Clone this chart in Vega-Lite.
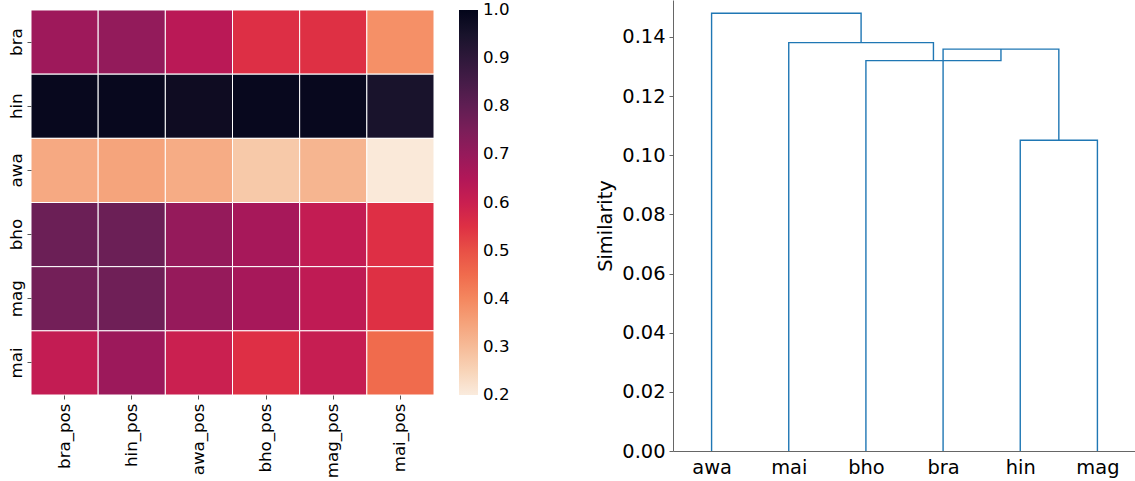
{
  "$schema": "https://vega.github.io/schema/vega-lite/v6.json",
  "background": "white",
  "padding": {"left": 8, "top": 0, "right": 0, "bottom": 0},
  "config": {
    "view": {"stroke": null},
    "font": "DejaVu Sans",
    "axis": {"labelFont": "DejaVu Sans", "titleFont": "DejaVu Sans", "grid": false, "labelColor": "black", "titleColor": "black", "titleFontWeight": "normal", "labelFlush": false},
    "legend": {"labelFont": "DejaVu Sans", "labelColor": "black"}
  },
  "datasets": {
    "heat": [
      {"row": "bra", "col": "bra_pos", "value": 0.685},
      {"row": "bra", "col": "hin_pos", "value": 0.707},
      {"row": "bra", "col": "awa_pos", "value": 0.631},
      {"row": "bra", "col": "bho_pos", "value": 0.554},
      {"row": "bra", "col": "mag_pos", "value": 0.55},
      {"row": "bra", "col": "mai_pos", "value": 0.383},
      {"row": "hin", "col": "bra_pos", "value": 0.99},
      {"row": "hin", "col": "hin_pos", "value": 0.99},
      {"row": "hin", "col": "awa_pos", "value": 0.977},
      {"row": "hin", "col": "bho_pos", "value": 0.99},
      {"row": "hin", "col": "mag_pos", "value": 0.99},
      {"row": "hin", "col": "mai_pos", "value": 0.947},
      {"row": "awa", "col": "bra_pos", "value": 0.336},
      {"row": "awa", "col": "hin_pos", "value": 0.345},
      {"row": "awa", "col": "awa_pos", "value": 0.331},
      {"row": "awa", "col": "bho_pos", "value": 0.273},
      {"row": "awa", "col": "mag_pos", "value": 0.313},
      {"row": "awa", "col": "mai_pos", "value": 0.205},
      {"row": "bho", "col": "bra_pos", "value": 0.781},
      {"row": "bho", "col": "hin_pos", "value": 0.78},
      {"row": "bho", "col": "awa_pos", "value": 0.702},
      {"row": "bho", "col": "bho_pos", "value": 0.668},
      {"row": "bho", "col": "mag_pos", "value": 0.613},
      {"row": "bho", "col": "mai_pos", "value": 0.552},
      {"row": "mag", "col": "bra_pos", "value": 0.766},
      {"row": "mag", "col": "hin_pos", "value": 0.773},
      {"row": "mag", "col": "awa_pos", "value": 0.7},
      {"row": "mag", "col": "bho_pos", "value": 0.668},
      {"row": "mag", "col": "mag_pos", "value": 0.622},
      {"row": "mag", "col": "mai_pos", "value": 0.55},
      {"row": "mai", "col": "bra_pos", "value": 0.613},
      {"row": "mai", "col": "hin_pos", "value": 0.689},
      {"row": "mai", "col": "awa_pos", "value": 0.598},
      {"row": "mai", "col": "bho_pos", "value": 0.552},
      {"row": "mai", "col": "mag_pos", "value": 0.607},
      {"row": "mai", "col": "mai_pos", "value": 0.45}
    ],
    "dendro": [
      {"link": 1, "ord": 1, "x": 45, "y": 0},
      {"link": 1, "ord": 2, "x": 45, "y": 0.1051},
      {"link": 1, "ord": 3, "x": 55, "y": 0.1051},
      {"link": 1, "ord": 4, "x": 55, "y": 0},
      {"link": 2, "ord": 1, "x": 35, "y": 0},
      {"link": 2, "ord": 2, "x": 35, "y": 0.1359},
      {"link": 2, "ord": 3, "x": 50, "y": 0.1359},
      {"link": 2, "ord": 4, "x": 50, "y": 0.1051},
      {"link": 3, "ord": 1, "x": 25, "y": 0},
      {"link": 3, "ord": 2, "x": 25, "y": 0.132},
      {"link": 3, "ord": 3, "x": 42.5, "y": 0.132},
      {"link": 3, "ord": 4, "x": 42.5, "y": 0.1359},
      {"link": 4, "ord": 1, "x": 15, "y": 0},
      {"link": 4, "ord": 2, "x": 15, "y": 0.1381},
      {"link": 4, "ord": 3, "x": 33.75, "y": 0.1381},
      {"link": 4, "ord": 4, "x": 33.75, "y": 0.132},
      {"link": 5, "ord": 1, "x": 5, "y": 0},
      {"link": 5, "ord": 2, "x": 5, "y": 0.148},
      {"link": 5, "ord": 3, "x": 24.375, "y": 0.148},
      {"link": 5, "ord": 4, "x": 24.375, "y": 0.1381}
    ]
  },
  "bounds": "flush",
  "spacing": 239,
  "hconcat": [
    {
      "width": 403,
      "height": 405,
      "data": {"name": "heat"},
      "mark": {"type": "rect", "stroke": "white", "strokeWidth": 1},
      "encoding": {
        "x": {
          "field": "col", "type": "nominal",
          "sort": ["bra_pos", "hin_pos", "awa_pos", "bho_pos", "mag_pos", "mai_pos"],
          "scale": {"paddingInner": 0, "paddingOuter": 0},
          "axis": {"title": null, "labelAngle": 270, "labelFontSize": 16.67, "tickSize": 4, "labelPadding": 4, "domain": false, "offset": -10, "tickColor": "#555"}
        },
        "y": {
          "field": "row", "type": "nominal",
          "sort": ["bra", "hin", "awa", "bho", "mag", "mai"],
          "scale": {"paddingInner": 0, "paddingOuter": 0.1558},
          "axis": {"title": null, "labelAngle": 270, "labelFontSize": 16.67, "tickSize": 4, "labelPadding": 2, "domain": false, "tickColor": "#555"}
        },
        "color": {
          "field": "value", "type": "quantitative",
          "scale": {
            "domain": [0.1995, 0.3143, 0.4286, 0.5429, 0.6571, 0.7714, 0.8857, 1.0005],
            "range": ["#faebdd", "#f6b48f", "#f37651", "#e13342", "#ad1759", "#701f57", "#35193e", "#03051a"]
          },
          "legend": {
            "orient": "none", "legendX": 428, "legendY": 10, "title": null, "direction": "vertical",
            "gradientLength": 385, "gradientThickness": 19,
            "values": [0.2, 0.3, 0.4, 0.5, 0.6, 0.7, 0.8, 0.9, 1.0], "format": ".1f",
            "labelFontSize": 16.67, "labelOffset": 5, "labelOverlap": false, "gradientStrokeWidth": 0, "labelBaseline": "middle"
          }
        }
      }
    },
    {
      "width": 463,
      "height": 451,
      "data": {"name": "dendro"},
      "mark": {"type": "line", "color": "#1f77b4", "strokeWidth": 1.4},
      "encoding": {
        "x": {
          "field": "x", "type": "quantitative",
          "scale": {"domain": [0, 60], "nice": false, "zero": false},
          "axis": {"title": null, "values": [5, 15, 25, 35, 45, 55], "labelExpr": "['awa','mai','bho','bra','hin','mag'][round((datum.value-5)/10)]", "labelFontSize": 19.4, "ticks": false, "labelPadding": 7, "domainColor": "#666"}
        },
        "y": {
          "field": "y", "type": "quantitative",
          "scale": {"domain": [0, 0.1525], "nice": false},
          "axis": {"title": "Similarity", "titleFontSize": 19.4, "values": [0, 0.02, 0.04, 0.06, 0.08, 0.1, 0.12, 0.14], "format": ".2f", "labelFontSize": 19.4, "tickSize": 4, "labelPadding": 4, "titlePadding": 6, "domainColor": "#666", "tickColor": "#666"}
        },
        "detail": {"field": "link", "type": "nominal"},
        "order": {"field": "ord", "type": "quantitative"}
      }
    }
  ]
}
